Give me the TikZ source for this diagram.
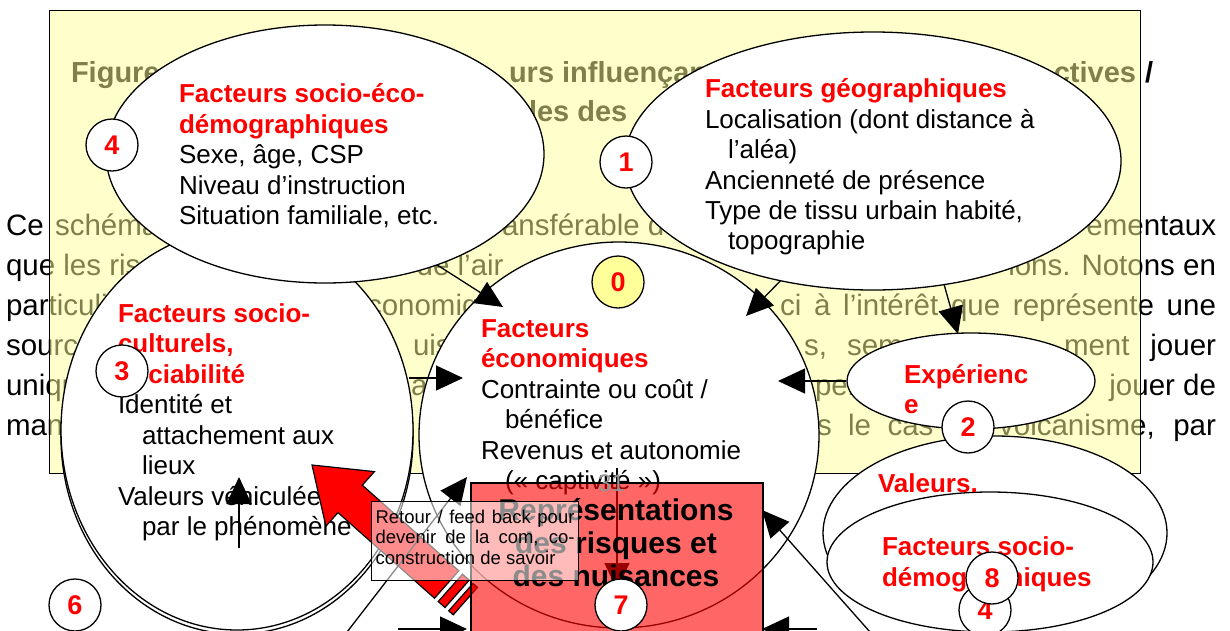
\documentclass[tikz,border=0pt]{standalone}
\usepackage{fontspec}
\setmainfont{Liberation Sans}
\usetikzlibrary{shapes.geometric, arrows.meta}
\definecolor{boxyel}{RGB}{255,255,153}
\definecolor{circyel}{RGB}{255,255,153}
\definecolor{pggray}{RGB}{150,150,150}
\begin{document}
\begin{tikzpicture}[x=1pt,y=-1pt,
 tx/.style={anchor=base west, inner sep=0pt, outer sep=0pt, font=\fontsize{26}{31}\selectfont},
 hd/.style={tx, font=\fontsize{26}{31}\selectfont\bfseries, text=red},
 body/.style={tx, font=\fontsize{29.5}{40}\selectfont},
 bodye/.style={body, anchor=base east},
 ttl/.style={tx, font=\fontsize{29}{35}\selectfont\bfseries},
 ttle/.style={ttl, anchor=base east},
 rt/.style={anchor=base, inner sep=0pt, font=\fontsize{30}{33}\selectfont\bfseries},
 rtx/.style={tx, font=\fontsize{18.5}{20.5}\selectfont},
 shp/.style={ellipse, draw, fill=white, line width=1.3pt, inner sep=0pt},
 num/.style={circle, draw, fill=white, line width=1.3pt, minimum size=52pt, inner sep=0pt, font=\fontsize{27}{27}\selectfont\bfseries, text=red},
 arr/.style={line width=1.3pt, -{Triangle[length=27pt, width=25pt]}},
 redarrow/.style={fill=red, draw=black, line width=1.2pt, line join=miter}
]
\useasboundingbox (0,0) rectangle (1230,630);

% ---- body paragraph (behind the yellow overlay)
\node[body] (b1a) at (6,235) {Ce};
\node[body] (b1b) at (55,235) {schéma};
\node[body] (b1c) at (484,235) {transférable d};
\node[bodye] (b1d) at (1216,235) {ementaux};
\node[body] (b2a) at (6,275) {que les risques};
\node[body] (b2b) at (416.7,275) {de l’air};
\node[bodye] (b2c) at (1216,275) {ions. Notons en};
\node[body] (b3a) at (6,315) {particulier};
\node[body] (b3b) at (350.6,315) {économiq};
\node[body] (b3c) at (780,315) {\makebox[436pt][s]{ci à l’intérêt que représente une}};
\node[body] (b4a) at (6,355) {source};
\node[body] (b4b) at (413,355) {uis};
\node[body] (b4c) at (804,355) {s,};
\node[body] (b4d) at (847,355) {sem};
\node[body] (b4e) at (1064,355) {ment};
\node[bodye] (b4f) at (1216,355) {jouer};
\node[body] (b5a) at (6,395) {unique};
\node[body] (b5b) at (411,395) {a};
\node[body] (b5c) at (815,395) {per};
\node[bodye] (b5d) at (1216,395) {jouer de};
\node[body] (b6a) at (6,435) {manière};
\node[body] (b6b) at (817,435) {\makebox[399pt][s]{s le cas du volcanisme, par}};

% ---- title
\node[ttl] (h1) at (71,82) {Figure};
\node[ttl] (h2) at (509,82) {urs influençant};
\node[ttle] (h3) at (1136,82) {ctives};
\node[ttl] (h4) at (1145,82) {/};
\node[ttl] (h5) at (529,121) {les des};

% ---- yellow overlay box
\node[draw, fill=boxyel, fill opacity=0.5, line width=1.3pt, anchor=north west,
      minimum width=1091pt, minimum height=463.5pt, inner sep=0pt] (box) at (49,9.5) {};

% ---- big shapes
\node[shp, minimum width=400pt, minimum height=386pt] (C) at (619,435) {};
\node[shp, minimum width=352pt, minimum height=394pt] (D2) at (237,437) {};
\node[shp, minimum width=352pt, minimum height=400pt] (D) at (237,430) {};

% connectors starting inside A and B
\coordinate (sAC) at (420,254); \coordinate (tAC) at (503,307);
\coordinate (sBC) at (790,271); \coordinate (tBC) at (746,316);
\coordinate (sBE) at (940,270); \coordinate (tBE) at (958,334);
\coordinate (sDC) at (409,378); \coordinate (tDC) at (463,378);
\draw[arr] (sAC) -- (tAC);
\draw[arr] (sBC) -- (tBC);
\draw[arr] (sBE) -- (tBE);
\draw[arr] (sDC) -- (tDC);

\node[shp, minimum width=438pt, minimum height=258pt] (A) at (325,154) {};
\node[shp, minimum width=496pt, minimum height=258pt] (B) at (873,161) {};
\node[shp, minimum width=344pt, minimum height=194pt] (F) at (995,533) {};
\node[shp, minimum width=326pt, minimum height=140pt] (G) at (990,562) {};
\node[shp, minimum width=248pt, minimum height=96pt] (E) at (971,381) {};

\coordinate (tEC) at (778,381);
\draw[arr] (E.west) -- (tEC);

% ---- texts in A
\node[hd] (a1) at (179,102) {Facteurs socio-éco-};
\node[hd] (a2) at (179,133) {démographiques};
\node[tx] (a3) at (179,163) {Sexe, âge, CSP};
\node[tx] (a4) at (179,194) {Niveau d’instruction};
\node[tx] (a5) at (179,224) {Situation familiale, etc.};
% ---- texts in B
\node[hd] (g1) at (705,97) {Facteurs géographiques};
\node[tx] (g2) at (705,128) {Localisation (dont distance à};
\node[tx] (g3) at (728,158) {l’aléa)};
\node[tx] (g4) at (705,189) {Ancienneté de présence};
\node[tx] (g5) at (705,219) {Type de tissu urbain habité,};
\node[tx] (g6) at (728,249) {topographie};
% ---- texts in C
\node[hd] (c1) at (481,337) {Facteurs};
\node[hd] (c2) at (481,367.5) {économiques};
\node[tx] (c3) at (481,398) {Contrainte ou coût /};
\node[tx] (c4) at (505,428.5) {bénéfice};
\node[tx] (c5) at (481,459) {Revenus et autonomie};
\node[tx] (c6) at (505,489.5) {(« captivité »)};
% ---- texts in D
\node[hd] (d1) at (118,322) {Facteurs socio-};
\node[hd] (d2) at (118,352.5) {culturels,};
\node[hd] (d3) at (118,383) {sociabilité};
\node[tx] (d4) at (118,413.5) {Identité et};
\node[tx] (d5) at (142,444) {attachement aux};
\node[tx] (d6) at (142,474.5) {lieux};
\node[tx] (d7) at (118,505) {Valeurs véhiculées};
\node[tx] (d8) at (142,535.5) {par le phénomène};
% ---- texts in E, F, G
\node[hd] (e1) at (904,383) {Expérienc};
\node[hd] (e2) at (904,413) {e};
\node[hd] (v1) at (878,492) {Valeurs.};
\node[hd] (s1) at (882,555) {Facteurs socio-};
\node[hd] (s2) at (882,586) {démographiques};

% ---- inner arrows
\coordinate (sDv) at (239,548); \coordinate (tDv) at (239,477);
\draw[arr] (sDv) -- (tDv);
\coordinate (sCv) at (617,468); \coordinate (tCv) at (617,590);
\draw[arr] (sCv) -- (tCv);

% ---- big red striped arrow (feedback)
\draw[redarrow] (312,465) -- (374.4,471.6) -- (362.3,485.2) -- (458.8,570.8)
  -- (434.5,598.2) -- (338.0,512.6) -- (325.9,526.2) -- cycle;
\draw[redarrow] (462.5,574.2) -- (469.3,580.1) -- (445.0,607.5) -- (438.2,601.5) -- cycle;
\draw[redarrow] (473.0,583.5) -- (477.5,587.4) -- (453.2,614.8) -- (448.7,610.8) -- cycle;

% ---- line from lower left
\coordinate (sBL) at (347,632); \coordinate (tBL) at (467,477);
\draw[arr] (sBL) -- (tBL);

% ---- red box: representations
\node[draw, fill=red, fill opacity=0.6, line width=1.5pt, anchor=north west,
      minimum width=292pt, minimum height=165pt, inner sep=0pt] (R) at (470,482) {};
\node[rt] (r1) at (616,520) {Représentations};
\node[rt] (r2) at (616,553) {des risques et};
\node[rt] (r3) at (616,586) {des nuisances};

% ---- feedback text box
\node[draw, fill=white, fill opacity=0.55, line width=1.2pt, anchor=north west,
      minimum width=207pt, minimum height=79pt, inner sep=0pt] (FB) at (371,501) {};
\node[rtx] (f1) at (375.5,523) {\makebox[199pt][s]{Retour / feed back pour}};
\node[rtx] (f2) at (375.5,543.5) {\makebox[199pt][s]{devenir de la com, co-}};
\node[rtx] (f3) at (375.5,564) {construction de savoir};

% ---- lines from the bottom
\coordinate (sBR) at (870,632); \coordinate (tBR) at (762,510);
\draw[arr] (sBR) -- (tBR);
\coordinate (sH1) at (398,629); \coordinate (tH1) at (467,629);
\draw[arr] (sH1) -- (tH1);
\coordinate (sH2) at (817,629); \coordinate (tH2) at (762,629);
\draw[arr] (sH2) -- (tH2);

% ---- numbered circles
\node[num] (n4) at (112,145) {4};
\node[num] (n1) at (626,162) {1};
\node[num, fill=circyel] (n0) at (618,282) {0};
\node[num] (n3) at (122,371) {3};
\node[num] (n2) at (968,427) {2};
\node[num] (n4b) at (985,610) {4};
\node[num] (n8) at (992,578) {8};
\node[num] (n6) at (75,605) {6};
\node[num] (n7) at (621,605) {7};

\node[tx, text=pggray, font=\fontsize{24}{24}\selectfont] (pg) at (598,491) {31};
\end{tikzpicture}
\end{document}
